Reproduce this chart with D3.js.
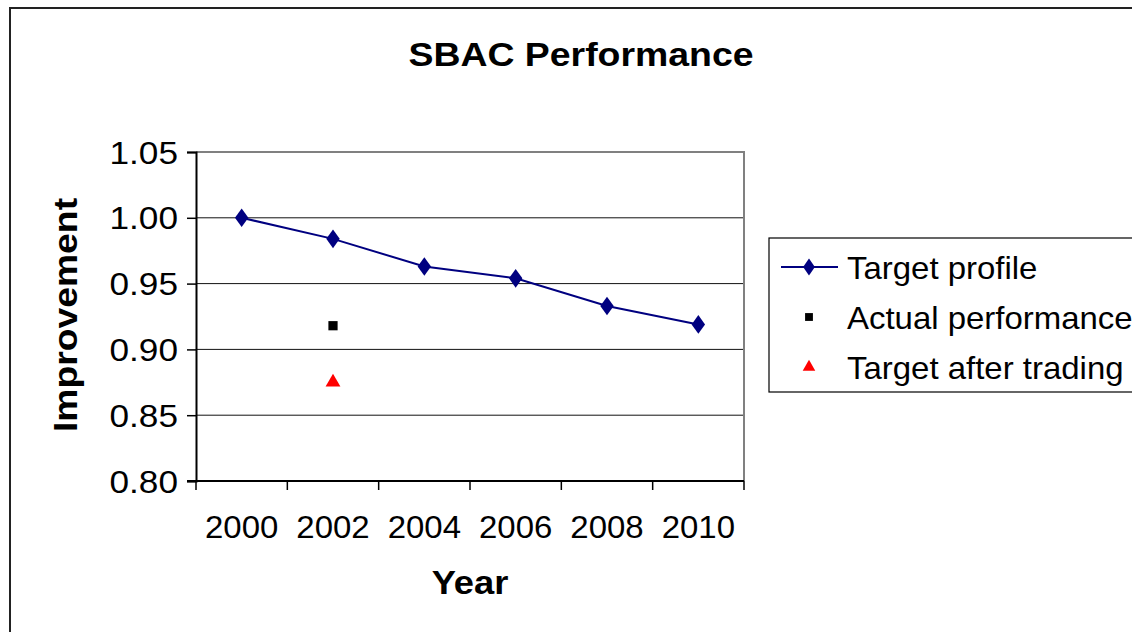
<!DOCTYPE html>
<html>
<head>
<meta charset="utf-8">
<script src="https://cdn.jsdelivr.net/npm/d3@7"></script>
<style>
  html, body { margin: 0; padding: 0; background: #fff; }
  svg { display: block; }
  text { font-family: "Liberation Sans", Arial, sans-serif; fill: #000; }
</style>
</head>
<body>
<svg id="chart" width="1132" height="632"></svg>
<script>
  // data
  const years = ['2000', '2002', '2004', '2006', '2008', '2010'];
  const targetProfile = [1.000, 0.984, 0.963, 0.954, 0.933, 0.919];
  const actualPerformance = [{ year: '2002', value: 0.918 }];
  const targetAfterTrading = [{ year: '2002', value: 0.875 }];
  const yTicks = [0.80, 0.85, 0.90, 0.95, 1.00, 1.05];
  const seriesNames = ['Target profile', 'Actual performance', 'Target after trading'];

  const plot = { left: 196, right: 744, top: 152, bottom: 481 };
  const navy = '#000080';

  const svg = d3.select('#chart');

  svg.append('rect').attr('width', 1132).attr('height', 632).attr('fill', '#fff');

  // outer chart frame (runs off right and bottom edges)
  svg.append('path')
    .attr('d', 'M10,640 L10,8 L1140,8')
    .attr('fill', 'none')
    .attr('stroke', '#222')
    .attr('stroke-width', 2);

  const x = d3.scaleBand().domain(years).range([plot.left, plot.right]);
  const y = d3.scaleLinear().domain([0.80, 1.05]).range([plot.bottom, plot.top]);
  const cx = (yr) => x(yr) + x.bandwidth() / 2;

  // stretched text helper
  function label(g, txt, px, py, opts) {
    const o = Object.assign({ size: 32, sx: 1.05, sy: 1, anchor: 'middle', weight: 'normal', rotate: 0 }, opts);
    return g.append('text')
      .attr('transform', `translate(${px},${py}) rotate(${o.rotate}) scale(${o.sx},${o.sy})`)
      .attr('text-anchor', o.anchor)
      .attr('font-size', o.size)
      .attr('font-weight', o.weight)
      .text(txt);
  }

  // gridlines
  svg.append('g')
    .selectAll('line')
    .data(yTicks.filter((t) => t > 0.8 && t < 1.05))
    .join('line')
    .attr('x1', plot.left)
    .attr('x2', plot.right)
    .attr('y1', (d) => y(d))
    .attr('y2', (d) => y(d))
    .attr('stroke', '#111')
    .attr('stroke-width', 1);

  // plot frame top/right in grey
  svg.append('path')
    .attr('d', `M${plot.left},${plot.top} L${plot.right},${plot.top} L${plot.right},${plot.bottom}`)
    .attr('fill', 'none')
    .attr('stroke', '#808080')
    .attr('stroke-width', 2);

  // y axis
  const yAxis = svg.append('g').attr('transform', `translate(${plot.left},0)`)
    .call(d3.axisLeft(y).tickValues(yTicks).tickSize(9).tickFormat(''));
  yAxis.select('.domain').attr('stroke', '#000').attr('stroke-width', 2);
  yAxis.selectAll('.tick line').attr('stroke', '#000').attr('stroke-width', 1.5);

  yTicks.forEach((t) => {
    label(svg, d3.format('.2f')(t), 178, y(t) + 11.5, { anchor: 'end', sx: 1.1 });
  });

  // x axis: category ticks on band edges
  const xAxis = svg.append('g').attr('transform', `translate(0,${plot.bottom})`);
  xAxis.append('line')
    .attr('x1', plot.left - 9).attr('x2', plot.right)
    .attr('stroke', '#000').attr('stroke-width', 2);
  const edges = years.map((yr) => x(yr)).concat([plot.right]);
  xAxis.selectAll('line.tick')
    .data(edges)
    .join('line')
    .attr('class', 'tick')
    .attr('x1', (d) => d).attr('x2', (d) => d)
    .attr('y1', 0).attr('y2', 9)
    .attr('stroke', '#000').attr('stroke-width', 1.5);

  years.forEach((yr) => {
    label(svg, yr, cx(yr), 538, { sx: 1.03 });
  });

  // titles
  label(svg, 'SBAC Performance', 581, 66, { size: 34, sx: 1.1, weight: 'bold' });
  label(svg, 'Year', 470, 594, { size: 33, sx: 1.1, weight: 'bold' });
  label(svg, 'Improvement', 77, 315, { size: 33, weight: 'bold', rotate: -90, sx: 1.13, sy: 1 });

  // series
  const diamond = d3.symbol().type(d3.symbolDiamond).size(100);
  const square = d3.symbol().type(d3.symbolSquare).size(85);
  const triangle = d3.symbol().type(d3.symbolTriangle).size(95);

  const line = d3.line().x((d, i) => cx(years[i])).y((d) => y(d));
  svg.append('path')
    .datum(targetProfile)
    .attr('d', line)
    .attr('fill', 'none')
    .attr('stroke', navy)
    .attr('stroke-width', 2);

  svg.append('g')
    .selectAll('path')
    .data(targetProfile)
    .join('path')
    .attr('d', diamond)
    .attr('transform', (d, i) => `translate(${cx(years[i])},${y(d)}) scale(1.25,1)`)
    .attr('fill', navy);

  svg.append('g')
    .selectAll('path')
    .data(actualPerformance)
    .join('path')
    .attr('d', square)
    .attr('transform', (d) => `translate(${cx(d.year)},${y(d.value)})`)
    .attr('fill', '#000');

  svg.append('g')
    .selectAll('path')
    .data(targetAfterTrading)
    .join('path')
    .attr('d', triangle)
    .attr('transform', (d) => `translate(${cx(d.year)},${y(d.value)})`)
    .attr('fill', '#ff0000');

  // legend
  const legend = svg.append('g');
  legend.append('rect')
    .attr('x', 769).attr('y', 238)
    .attr('width', 380).attr('height', 154)
    .attr('fill', '#fff')
    .attr('stroke', '#000')
    .attr('stroke-width', 1.2);

  const rowY = [267, 317, 367];
  legend.append('line')
    .attr('x1', 781).attr('x2', 838)
    .attr('y1', rowY[0]).attr('y2', rowY[0])
    .attr('stroke', navy).attr('stroke-width', 2);
  legend.append('path').attr('d', diamond).attr('transform', `translate(809,${rowY[0]}) scale(1.1,0.9)`).attr('fill', navy);
  legend.append('path').attr('d', square).attr('transform', `translate(809,${rowY[1]}) scale(0.85)`).attr('fill', '#000');
  legend.append('path').attr('d', triangle).attr('transform', `translate(809,${rowY[2]}) scale(0.85)`).attr('fill', '#ff0000');

  seriesNames.forEach((name, i) => {
    label(legend, name, 847, rowY[i] + 11.5, { anchor: 'start', sx: 1.03 });
  });
</script>
</body>
</html>
